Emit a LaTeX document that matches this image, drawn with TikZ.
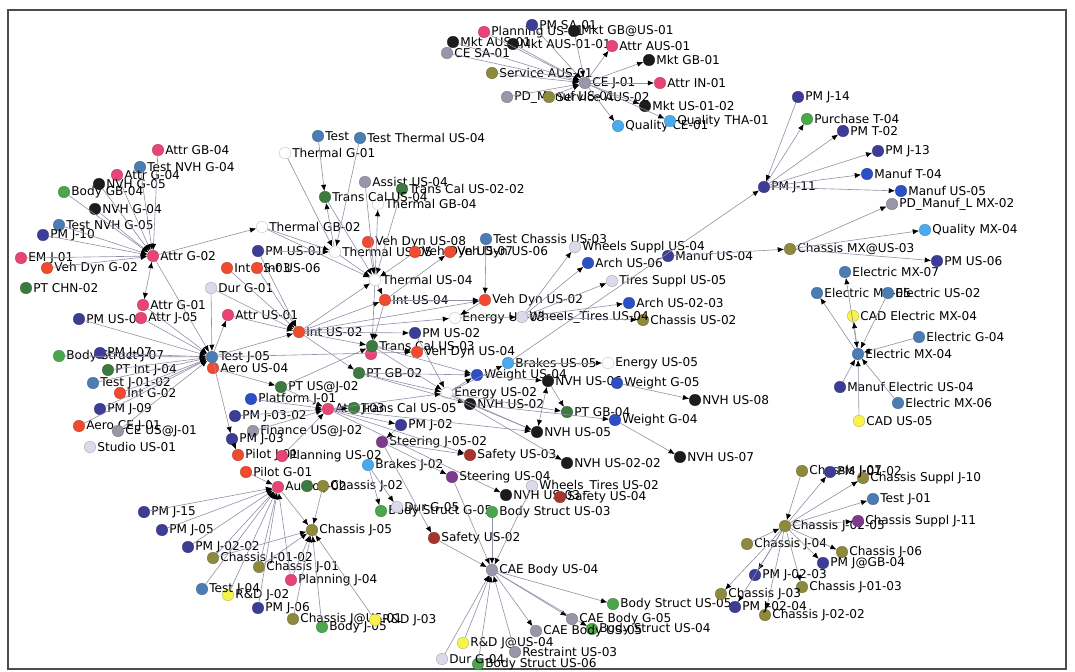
\documentclass[tikz,border=0pt]{standalone}
\usepackage{fontspec}
\setsansfont{DejaVu Sans}
\usetikzlibrary{arrows.meta}

\definecolor{cpink}{HTML}{E84475}
\definecolor{cred}{HTML}{F04B2E}
\definecolor{cnavy}{HTML}{3D3C96}
\definecolor{csteel}{HTML}{4B7DB4}
\definecolor{cdkgreen}{HTML}{3C7A40}
\definecolor{cgreen}{HTML}{4CA64C}
\definecolor{cblack}{HTML}{1C1C1C}
\definecolor{cgray}{HTML}{9A96AA}
\definecolor{colive}{HTML}{8D8A3E}
\definecolor{clblue}{HTML}{4AAAF0}
\definecolor{clav}{HTML}{DADAEA}
\definecolor{cyellow}{HTML}{F7F24C}
\definecolor{cpurple}{HTML}{7E3A8E}
\definecolor{cdkred}{HTML}{A8352B}
\definecolor{cblue}{HTML}{2D4FC6}
\definecolor{linkgray}{rgb}{0.58,0.56,0.66}

\begin{document}
\begin{tikzpicture}[x=0.02cm, y=-0.02cm,
  dot/.style={circle, inner sep=0pt, minimum size=2.3mm, fill=#1, draw=#1!75!black, line width=0.2pt},
  every label/.style={font=\sffamily\fontsize{6.9}{7}\selectfont, inner sep=0.6pt, text=black},
  label distance=0pt,
  e/.style={->, draw=linkgray, line width=0.35pt},
  >={Latex[length=3.6pt,width=3pt,color=black]}]
\useasboundingbox (0,0) rectangle (1075,672);
\draw[black!70, line width=1.3pt] (8,10) rectangle (1066,669);

% CE J-01 group
\node[dot=cpink, label=right:Planning US-01] (plsa) at (484,32) {};
\node[dot=cnavy, label=right:PM SA-01] (pmsa) at (532,25) {};
\node[dot=cblack, label=right:Mkt GB@US-01] (mktgbus) at (574,31) {};
\node[dot=cblack, label=right:Mkt AUS-01] (mktaus) at (453,42) {};
\node[dot=cblack, label=right:Mkt AUS-01-01] (mktaus0101) at (513,44) {};
\node[dot=cgray, label=right:CE SA-01] (cesa) at (447,53) {};
\node[dot=cpink, label=right:Attr AUS-01] (attraus) at (612,46) {};
\node[dot=cblack, label=right:Mkt GB-01] (mktgb01) at (649,60) {};
\node[dot=colive, label=right:Service AUS-01] (servaus01) at (492,73) {};
\node[dot=cgray, label=right:CE J-01] (cej01) at (585,83) {};
\node[dot=cpink, label=right:Attr IN-01] (attrin01) at (660,83) {};
\node[dot=cgray, label=right:PD\_Manuf US-01] (pdm) at (507,97) {};
\node[dot=colive, label=right:Service AUS-02] (servaus02) at (549,97) {};
\node[dot=cblack, label=right:Mkt US-01-02] (mktus0102) at (645,106) {};
\node[dot=clblue, label=right:Quality CE-01] (qualce01) at (618,126) {};
\node[dot=clblue, label=right:Quality THA-01] (qualtha01) at (670,121) {};

% Attr G-02 group
\node[dot=cpink, label=right:Attr GB-04] (attrgb04) at (158,150) {};
\node[dot=csteel, label=right:Test NVH G-04] (tnvhg04) at (140,167) {};
\node[dot=cpink, label=right:Attr G-04] (attrg04) at (117,175) {};
\node[dot=cgreen, label=right:Body GB-04] (bodygb04) at (64,192) {};
\node[dot=cblack, label=right:NVH G-05] (nvhg05) at (99,184) {};
\node[dot=cblack, label=right:NVH G-04] (nvhg04) at (95,209) {};
\node[dot=csteel, label=right:Test NVH G-05] (tnvhg05) at (59,225) {};
\node[dot=cnavy, label=right:PM J-10] (pmj10) at (43,235) {};
\node[dot=cpink, label=right:EM J-01] (emj01) at (21,258) {};
\node[dot=cred, label=right:Veh Dyn G-02] (vdg02) at (47,268) {};
\node[dot=cdkgreen, label=right:PT CHN-02] (ptchn02) at (26,288) {};
\node[dot=cpink, label=right:Attr G-02] (attrg02) at (153,256) {};
\node[dot=cpink, label=right:Attr G-01] (attrg01) at (143,305) {};
\node[dot=cnavy, label=right:PM US-05] (pmus05) at (79,319) {};
\node[dot=cpink, label=right:Attr J-05] (attrj05) at (141,318) {};

% Test J-05 group
\node[dot=cgreen, label=right:Body Struct J-07] (bodysj07) at (59,356) {};
\node[dot=cnavy, label=right:PM J-07] (pmj07) at (100,353) {};
\node[dot=cdkgreen, label=right:PT Int J-04] (ptintj04) at (108,370) {};
\node[dot=cred, label=right:Int G-02] (intg02) at (120,393) {};
\node[dot=csteel, label=right:Test J-01-02] (testj0102) at (93,383) {};
\node[dot=cnavy, label=right:PM J-09] (pmj09) at (100,409) {};
\node[dot=cred, label=right:Aero CE J-01] (aeroce) at (79,426) {};
\node[dot=cgray, label=right:CE US@J-01] (ceusj01) at (118,431) {};
\node[dot=clav, label=right:Studio US-01] (studio) at (90,447) {};
\node[dot=cred, label=right:Aero US-04] (aerous04) at (213,368) {};
\node[dot=csteel, label=right:Test J-05] (testj05) at (212,357) {};

% Thermal / Int group
\node[dot=csteel, label=right:Test] (testx) at (318,136) {};
\node[dot=csteel, label=right:Test Thermal US-04] (testthus04) at (360,138) {};
\node[dot=white, label=right:Thermal G-01] (thg01) at (285,153) {};
\node[dot=cgray, label=right:Assist US-04] (assist) at (365,182) {};
\node[dot=cdkgreen, label=right:Trans Cal US-02-02] (tcal0202) at (402,189) {};
\node[dot=white, label=right:Thermal GB-04] (thgb04) at (378,204) {};
\node[dot=cdkgreen, label=right:Trans Cal US-04] (tcalus04) at (325,197) {};
\node[dot=white, label=right:Thermal GB-02] (thgb02) at (262,227) {};
\node[dot=cnavy, label=right:PM US-01] (pmus01) at (258,251) {};
\node[dot=cred, label=right:Int US-03] (intus03) at (227,268) {};
\node[dot=cred, label=right:Int US-06] (intus06) at (257,268) {};
\node[dot=clav, label=right:Dur G-01] (durg01) at (211,288) {};
\node[dot=cpink, label=right:Attr US-01] (attrus01) at (228,315) {};
\node[dot=cred, label=right:Int US-02] (intus02) at (299,332) {};
\node[dot=cred, label=right:Veh Dyn US-08] (vdus08) at (368,242) {};
\node[dot=white, label=right:Thermal US-05] (thus05) at (335,252) {};
\node[dot=cred, label=right:Veh Dyn US-07] (vdus07) at (415,252) {};
\node[dot=cred, label=right:Veh Dyn US-06] (vdus06) at (450,252) {};
\node[dot=white, label=right:Thermal US-04] (thus04) at (375,280) {};
\node[dot=cred, label=right:Int US-04] (intus04) at (385,300) {};

% Wheels / Arch group
\node[dot=csteel, label=right:Test Chassis US-03] (testchassis) at (486,239) {};
\node[dot=clav, label=right:Wheels Suppl US-04] (whsup) at (575,247) {};
\node[dot=cnavy, label=right:Manuf US-04] (manufus04) at (668,256) {};
\node[dot=cblue, label=right:Arch US-06] (arch06) at (588,263) {};
\node[dot=clav, label=right:Tires Suppl US-05] (tiresup) at (612,281) {};
\node[dot=cblue, label=right:Arch US-02-03] (arch0203) at (629,303) {};
\node[dot=colive, label=right:Chassis US-02] (chassisus02) at (643,320) {};
\node[dot=cred, label=right:Veh Dyn US-02] (vdus02) at (485,300) {};
\node[dot=white, label=right:Energy US-03] (energyus03) at (455,318) {};
\node[dot=clav, label=right:Wheels\_Tires US-04] (whtus04) at (522,317) {};

% Trans Cal / Weight / NVH group
\node[dot=cnavy, label=right:PM US-02] (pmus02) at (415,333) {};
\node[dot=cpink] (pinkx) at (371,354) {};
\node[dot=cdkgreen, label=right:Trans Cal US-03] (tcalus03) at (372,346) {};
\node[dot=cred, label=right:Veh Dyn US-04] (vdus04) at (417,352) {};
\node[dot=clblue, label=right:Brakes US-05] (brakesus05) at (508,363) {};
\node[dot=white, label=right:Energy US-05] (energyus05) at (608,363) {};
\node[dot=cdkgreen, label=right:PT GB-02] (ptgb02) at (359,373) {};
\node[dot=cblue, label=right:Weight US-04] (weightus04) at (477,375) {};
\node[dot=cblack, label=right:NVH US-06] (nvhus06) at (548,381) {};
\node[dot=cblue, label=right:Weight G-05] (weightg05) at (617,383) {};
\node[dot=cblack, label=right:NVH US-08] (nvhus08) at (695,400) {};
\node[dot=white, label=right:Energy US-02] (energyus02) at (447,393) {};
\node[dot=cblack, label=right:NVH US-02] (nvhus02) at (470,404) {};
\node[dot=cdkgreen, label=right:PT GB-04] (ptgb04) at (567,412) {};
\node[dot=cblue, label=right:Weight G-04] (weightg04) at (615,420) {};
\node[dot=cblack, label=right:NVH US-05] (nvhus05) at (537,432) {};

% Attr J-03 group
\node[dot=cdkgreen, label=right:PT US@J-02] (ptusj02) at (281,387) {};
\node[dot=cblue, label=right:Platform J-01] (platform) at (251,399) {};
\node[dot=cnavy, label=right:PM J-03-02] (pmj0302) at (235,416) {};
\node[dot=cgray, label=right:Finance US@J-02] (finance) at (253,431) {};
\node[dot=cnavy, label=right:PM J-03] (pmj03) at (232,439) {};
\node[dot=cpink, label=right:Attr J-03] (attrj03) at (328,409) {};
\node[dot=cdkgreen, label=right:Trans Cal US-05] (tcalus05) at (354,408) {};
\node[dot=cnavy, label=right:PM J-02] (pmj02) at (401,425) {};
\node[dot=cpurple, label=right:Steering J-05-02] (steerj0502) at (382,442) {};
\node[dot=cred, label=right:Pilot J-01] (pilotj01) at (238,455) {};
\node[dot=cpink, label=right:Planning US-02] (planus02) at (282,456) {};
\node[dot=cred, label=right:Pilot G-01] (pilotg01) at (246,472) {};
\node[dot=clblue, label=right:Brakes J-02] (brakesj02) at (368,465) {};
\node[dot=cdkred, label=right:Safety US-03] (safus03) at (470,455) {};
\node[dot=cblack, label=right:NVH US-07] (nvhus07) at (680,457) {};
\node[dot=cblack, label=right:NVH US-02-02] (nvhus0202) at (567,463) {};
\node[dot=cpurple, label=right:Steering US-04] (steerus04) at (452,477) {};
\node[dot=clav, label=right:Wheels\_Tires US-02] (whtus02) at (532,486) {};
\node[dot=cblack, label=right:NVH US-03] (nvhus03) at (506,495) {};
\node[dot=cdkred, label=right:Safety US-04] (safus04) at (560,497) {};

% CAE Body group
\node[dot=cgreen, label=right:Body Struct G-05] (bodysg05) at (381,511) {};
\node[dot=clav, label=right:Dur G-05] (durg05) at (397,507) {};
\node[dot=cgreen, label=right:Body Struct US-03] (bodysus03) at (492,512) {};
\node[dot=cdkred, label=right:Safety US-02] (safus02) at (434,538) {};
\node[dot=cgray, label=right:CAE Body US-04] (caebus04) at (492,570) {};
\node[dot=cgreen, label=right:Body Struct US-05] (bodysus05) at (613,604) {};
\node[dot=cgray, label=right:CAE Body G-05] (caebg05) at (572,619) {};
\node[dot=cgreen, label=right:Body Struct US-04] (bodysus04) at (592,629) {};
\node[dot=cgray, label=right:CAE Body US-05] (caebus05) at (536,631) {};
\node[dot=cyellow, label=right:R\&D J@US-04] (rdjus04) at (463,643) {};
\node[dot=cgreen, label=right:Body Struct US-06] (bodysus06) at (478,664) {};
\node[dot=clav, label=right:Dur G-04] (durg04) at (442,659) {};
\node[dot=cgray, label=right:Restraint US-03] (restraint) at (515,652) {};

% Audio / Chassis J-05 group
\node[dot=cpink, label=right:Audio J-02] (auhub) at (278,487) {};
\node[dot=cdkgreen] (greenx) at (307,486) {};
\node[dot=colive, label=right:Chassis J-02] (chassisj02) at (323,486) {};
\node[dot=cnavy, label=right:PM J-15] (pmj15) at (144,512) {};
\node[dot=cnavy, label=right:PM J-05] (pmj05) at (162,530) {};
\node[dot=cnavy, label=right:PM J-02-02] (pmj0202) at (188,547) {};
\node[dot=colive, label=right:Chassis J-05] (chj05) at (312,530) {};
\node[dot=colive, label=right:Chassis J-01] (chj01) at (259,567) {};
\node[dot=colive, label=right:Chassis J-01-02] (chj0102) at (213,558) {};
\node[dot=cpink, label=right:Planning J-04] (planj04) at (291,580) {};
\node[dot=cyellow, label=right:R\&D J-02] (rdj02) at (228,595) {};
\node[dot=csteel, label=right:Test J-04] (testj04) at (202,589) {};
\node[dot=cnavy, label=right:PM J-06] (pmj06) at (258,608) {};
\node[dot=cgreen, label=right:Body J-05] (bodyj05) at (322,627) {};
\node[dot=colive, label=right:Chassis J@US-01] (chjat) at (293,619) {};
\node[dot=cyellow, label=right:R\&D J-03] (rdj03) at (375,620) {};

% PM J-11 / Chassis MX group
\node[dot=cnavy, label=right:PM J-14] (pmj14) at (798,97) {};
\node[dot=cgreen, label=right:Purchase T-04] (purch) at (807,119) {};
\node[dot=cnavy, label=right:PM T-02] (pmt02) at (843,131) {};
\node[dot=cnavy, label=right:PM J-13] (pmj13) at (878,151) {};
\node[dot=cblue, label=right:Manuf T-04] (manuft04) at (867,174) {};
\node[dot=cnavy, label=right:PM J-11] (pmj11) at (764,187) {};
\node[dot=cblue, label=right:Manuf US-05] (manufus05) at (901,191) {};
\node[dot=cgray, label=right:PD\_Manuf\_L MX-02] (pdmanuf) at (892,204) {};
\node[dot=clblue, label=right:Quality MX-04] (qualmx04) at (925,230) {};
\node[dot=colive, label=right:Chassis MX@US-03] (chmxus03) at (790,249) {};
\node[dot=cnavy, label=right:PM US-06] (pmus06) at (937,261) {};

% Electric group
\node[dot=csteel, label=right:Electric MX-07] (elmx07) at (845,272) {};
\node[dot=csteel, label=right:Electric MX-05] (elmx05) at (817,293) {};
\node[dot=csteel, label=right:Electric US-02] (elus02) at (888,293) {};
\node[dot=cyellow, label=right:CAD Electric MX-04] (cadelmx04) at (853,316) {};
\node[dot=csteel, label=right:Electric G-04] (elg04) at (919,337) {};
\node[dot=csteel, label=right:Electric MX-04] (elmx04) at (858,354) {};
\node[dot=cnavy, label=right:Manuf Electric US-04] (manufel) at (840,387) {};
\node[dot=csteel, label=right:Electric MX-06] (elmx06) at (898,403) {};
\node[dot=cyellow, label=right:CAD US-05] (cadus05) at (859,421) {};

% Chassis J-02-05 group
\node[dot=colive, label=right:Chassis J-07] (chx) at (802,471) {};
\node[dot=colive, label=right:Chassis Suppl J-10] (chsupj10) at (863,478) {};
\node[dot=cnavy, label=right:PM J-01-02] (pmj0102) at (830,472) {};
\node[dot=csteel, label=right:Test J-01] (testj01) at (873,499) {};
\node[dot=colive, label=right:Chassis J-02-05] (chj0205) at (785,526) {};
\node[dot=cpurple, label=right:Chassis Suppl J-11] (chsupj11) at (858,521) {};
\node[dot=colive, label=right:Chassis J-04] (chj04) at (747,544) {};
\node[dot=colive, label=right:Chassis J-06] (chj06) at (842,552) {};
\node[dot=cnavy, label=right:PM J@GB-04] (pmjgb04) at (823,563) {};
\node[dot=cnavy, label=right:PM J-02-03] (pmj0203) at (755,575) {};
\node[dot=colive, label=right:Chassis J-01-03] (chj0103) at (802,587) {};
\node[dot=colive, label=right:Chassis J-03] (chj03) at (721,594) {};
\node[dot=colive, label=right:Chassis J-02-02] (chj0202) at (765,615) {};
\node[dot=cnavy, label=right:PM J-02-04] (pmj0204) at (735,607) {};

% links
\path[e] (plsa) edge (cej01) (pmsa) edge (cej01) (mktgbus) edge (cej01) (mktaus) edge (cej01) (mktaus0101) edge (cej01)
  (cesa) edge (cej01) (servaus01) edge (cej01) (pdm) edge (cej01) (servaus02) edge (cej01);
\path[e] (cej01) edge (attraus) edge (mktgb01) edge (attrin01) edge (mktus0102) edge (qualce01) edge (qualtha01);

\path[e] (attrgb04) edge (attrg02) (tnvhg04) edge (attrg02) (attrg04) edge (attrg02) (nvhg05) edge (attrg02)
  (bodygb04) edge (attrg02) (nvhg04) edge (attrg02) (tnvhg05) edge (attrg02) (pmj10) edge (attrg02)
  (emj01) edge (attrg02) (vdg02) edge (attrg02);
\path[e] (attrg02) edge (thgb02) edge (testj05) edge[<->] (attrg01);

\path[e] (pmus05) edge (testj05) (attrj05) edge (testj05) (bodysj07) edge (testj05) (pmj07) edge (testj05)
  (ptintj04) edge (testj05) (testj0102) edge (testj05) (intg02) edge (testj05) (pmj09) edge (testj05)
  (attrg01) edge (testj05) (durg01) edge (testj05) (aeroce) edge (testj05) (ceusj01) edge (testj05);
\path[e] (testj05) edge (attrus01) edge (intus02) edge (pmj03) edge (vdus04);
\path[e] (aerous04) edge (ptusj02);

\path[e] (attrus01) edge (intus02) (durg01) edge (intus02) (intus03) edge (intus02) (intus06) edge (intus02) (pmus01) edge (intus02);
\path[e] (intus02) edge (thus04) edge (intus04) edge (vdus02) edge (energyus03) edge (tcalus03) edge (ptgb02) edge (pmus02);

\path[e] (thg01) edge (thus05) (testthus04) edge (thus05) (thgb02) edge (thus05) (pmus01) edge (thus05);
\path[e] (thus05) edge (tcalus04) edge (thus04);
\path[e] (testx) edge (tcalus04) (tcalus04) edge (thus04) (assist) edge (thus04) (tcal0202) edge (thus04)
  (vdus08) edge (thus04) (thgb02) edge (thus04) (vdus07) edge (thus04);
\path[e] (thus04) edge (thgb04) edge (intus04) edge (tcalus03);
\path[e] (intus04) edge (vdus06) edge (vdus02) edge (tcalus03);

\path[e] (tcalus03) edge (vdus04) edge (weightus04) edge (energyus02);
\path[e] (ptgb02) edge (weightus04) edge (energyus02) edge (nvhus02);
\path[e] (pmus02) edge (energyus02);
\path[e] (vdus02) edge (energyus03);
\path[e] (energyus02) edge (brakesus05) edge (weightus04) edge (nvhus05) edge (ptgb04) edge (nvhus0202);
\path[e] (brakesus05) edge (energyus05) edge (pmj11);
\path[e] (weightus04) edge (nvhus06);
\path[e] (nvhus06) edge[<->] (nvhus05) edge (ptgb04);
\path[e] (weightg05) edge (nvhus08) (weightg04) edge (nvhus07);
\path[e] (nvhus02) edge (nvhus05) edge (weightg04);

\path[e] (whtus04) edge (whsup) edge (arch06) edge (tiresup) edge (arch0203) edge (chassisus02);
\path[e] (testchassis) edge (vdus02);
\path[e] (energyus03) edge (whtus04);

\path[e] (platform) edge (attrj03) (pmj0302) edge (attrj03) (finance) edge (attrj03) (ptusj02) edge (attrj03) (planus02) edge (attrj03);
\path[e] (attrj03) edge (tcalus05) edge (nvhus05) edge (safus03) edge (energyus02) edge (pmj02) edge (nvhus03);
\path[e] (ptusj02) edge (tcalus03);
\path[e] (pmj03) edge (pilotj01);
\path[e] (pmj02) edge (steerj0502);
\path[e] (steerj0502) edge (steerus04) edge (safus03) edge (safus02);
\path[e] (brakesj02) edge (bodysg05) edge (durg05);

\path[e] (safus02) edge (caebus04) (bodysus03) edge (caebus04) (whtus02) edge (caebus04) (steerus04) edge (caebus04)
  (restraint) edge (caebus04) (rdjus04) edge (caebus04) (durg04) edge (caebus04) (bodysus06) edge (caebus04);
\path[e] (caebus04) edge (bodysus05) edge (caebg05) edge (caebus05) edge (bodysus04);

\path[e] (pmj15) edge (auhub) (pmj05) edge (auhub) (pmj0202) edge (auhub) (chj0102) edge (auhub) (chj01) edge (auhub)
  (testj04) edge (auhub) (rdj02) edge (auhub) (pmj06) edge (auhub) (planj04) edge (auhub) (pilotg01) edge (auhub);
\path[e] (auhub) edge (chj05);
\path[e] (chassisj02) edge (chj05) (chj0102) edge (chj05) (planj04) edge (chj05) (chjat) edge (chj05)
  (bodyj05) edge (chj05) (rdj03) edge (chj05) (chj01) edge (chj05);

\path[e] (pmj14) edge (pmj11);
\path[e] (pmj11) edge (purch) edge (pmt02) edge (pmj13) edge (manuft04) edge (manufus05);
\path[e] (manufus04) edge (chmxus03);
\path[e] (chmxus03) edge (qualmx04) edge (pmus06) edge (pdmanuf);

\path[e] (elmx04) edge (elmx07) edge (elmx05) edge[<->] (cadelmx04);
\path[e] (elus02) edge (elmx04) (elg04) edge (elmx04) (manufel) edge (elmx04) (elmx06) edge (elmx04) (cadus05) edge (elmx04);

\path[e] (chx) edge (chj0205) (chj04) edge (chj0205);
\path[e] (chj0205) edge (pmj0102) edge (chsupj10) edge (testj01) edge (chsupj11) edge (pmj0203) edge (pmjgb04)
  edge (chj0103) edge (chj03) edge (chj06) edge (chj0202) edge (pmj0204);
\end{tikzpicture}
\end{document}
